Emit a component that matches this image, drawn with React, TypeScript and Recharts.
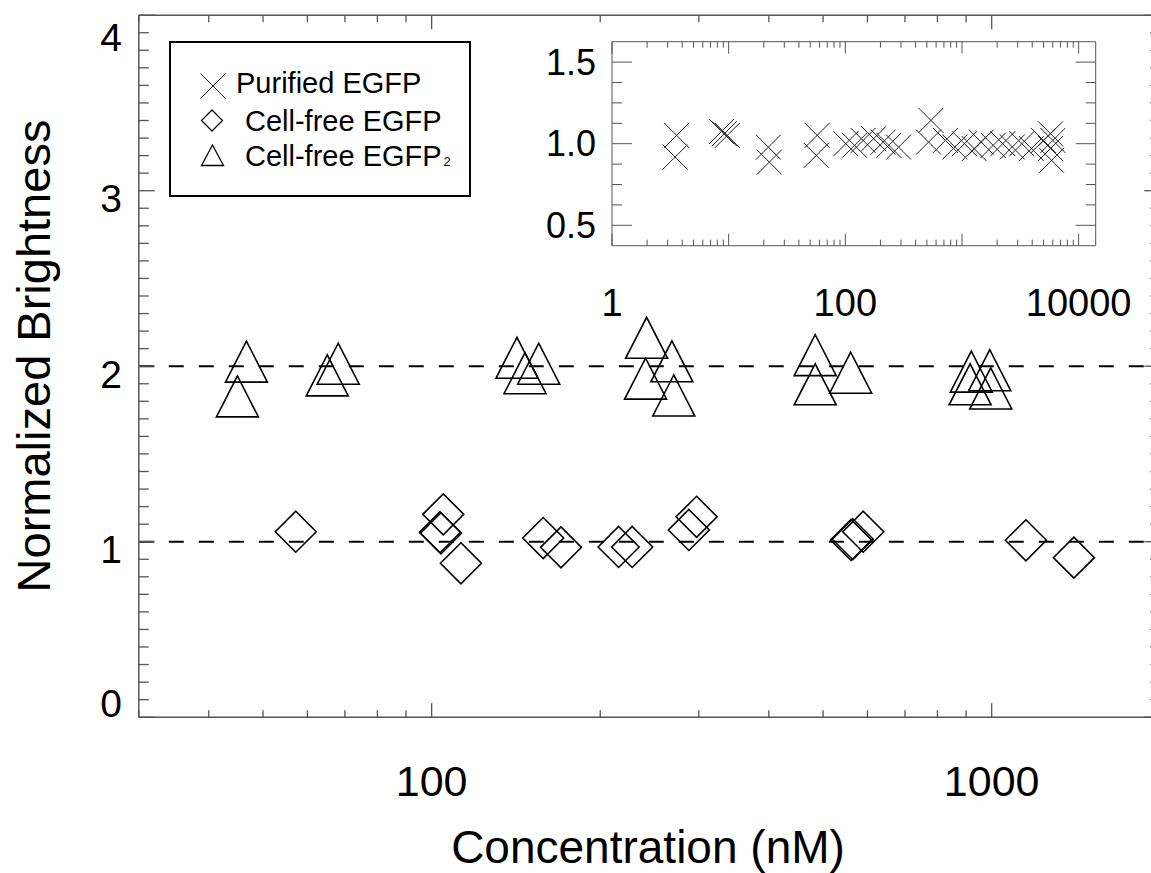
import { ScatterChart, Scatter, XAxis, YAxis, ReferenceLine } from 'recharts';

// main panel: Normalized Brightness vs concentration (nM)
const tri2X = [46.7, 45.0, 68.1, 65.1, 142.0, 155.3, 146.8, 242, 268.5, 241, 270.6, 484, 484, 560, 919.6, 992, 915, 996];
const tri2Y = [2.026, 1.828, 2.014, 1.948, 2.048, 2.014, 1.96, 2.162, 2.028, 1.929, 1.833, 2.063, 1.897, 1.963, 1.969, 1.977, 1.897, 1.873];

const diaX = [57.2, 104.9, 103.5, 103.9, 112.8, 158.2, 170.2, 215.7, 228.1, 297.2, 287.9, 564.9, 560.8, 589.7, 1151, 1402];
const diaY = [1.057, 1.156, 1.054, 1.048, 0.877, 1.021, 0.968, 0.97, 0.97, 1.142, 1.067, 1.014, 1.01, 1.057, 1.008, 0.909];

// inset: purified EGFP
const crossX = [3.58, 3.47, 8.68, 9.19, 9.73, 21.9, 22.3, 57.3, 56.3, 101, 120, 142, 175, 211, 236, 286, 542, 517, 721, 869, 1050, 1270, 1462, 1850, 2237, 2700, 3260, 3941, 4985, 5740, 6010, 5860, 5740];
const crossY = [1.051, 0.918, 1.075, 1.061, 1.051, 0.979, 0.887, 1.051, 0.928, 1.0, 0.99, 1.02, 1.031, 1.01, 0.99, 0.979, 1.143, 1.01, 1.02, 0.98, 1.0, 0.97, 1.01, 0.99, 1.0, 0.98, 1.0, 0.97, 1.02, 1.061, 1.02, 0.898, 0.971];

const mainXTicks = [30, 40, 50, 60, 70, 80, 90, 100, 200, 300, 400, 500, 600, 700, 800, 900, 1000, 2000];
const mainXLabels = [100, 1000];
const mainYTicks = Array.from({ length: 41 }, (_, i) => i / 10);

const insetXTicks = [1, 2, 3, 4, 5, 6, 7, 8, 9, 10, 20, 30, 40, 50, 60, 70, 80, 90, 100, 200, 300, 400, 500, 600, 700, 800, 900, 1000, 2000, 3000, 4000, 5000, 6000, 7000, 8000, 9000, 10000];
const insetXLabels = [1, 100, 10000];
const insetYTicks = [0.5, 0.625, 0.75, 0.875, 1.0, 1.125, 1.25, 1.375, 1.5];

const legendLabels = ['Purified EGFP', 'Cell-free EGFP', 'Cell-free EGFP'];

const FONT = '"Liberation Sans", Arial, Helvetica, sans-serif';
const AXIS = '#555';

const toPts = (xs: number[], ys: number[]) => xs.map((x, i) => ({ x, y: ys[i] }));

// layout
const PL = 138.8, PR = 1160.3, PT = 15.2, PB = 717.2;
const IL = 612, IR = 1095.7, IT = 41.7, IB = 245.7;

const Triangle = (p: any) => {
  const { cx, cy } = p;
  return <polygon points={`${cx},${cy - 20.5} ${cx - 21},${cy + 20.5} ${cx + 21},${cy + 20.5}`} fill="none" stroke="#000" strokeWidth={1.6} />;
};
const Diamond = (p: any) => {
  const { cx, cy } = p;
  return <polygon points={`${cx},${cy - 20.5} ${cx + 20.5},${cy} ${cx},${cy + 20.5} ${cx - 20.5},${cy}`} fill="none" stroke="#000" strokeWidth={1.6} />;
};
const Cross = (p: any) => {
  const { cx, cy } = p;
  const h = 12.5;
  return (
    <g stroke="#222" strokeWidth={1}>
      <line x1={cx - h} y1={cy - h} x2={cx + h} y2={cy + h} />
      <line x1={cx - h} y1={cy + h} x2={cx + h} y2={cy - h} />
    </g>
  );
};

const MainYTick = (props: any) => {
  const { y, payload } = props;
  const v = payload.value;
  const major = Math.abs(v - Math.round(v)) < 1e-6;
  const len = major ? 16 : 10;
  let dy = 8;
  if (v === 0) dy = -14;
  if (v === 4) dy = 22;
  return (
    <g>
      <line x1={PL} x2={PL + len} y1={y} y2={y} stroke={AXIS} strokeWidth={1.3} />
      <line x1={PR} x2={PR - len} y1={y} y2={y} stroke={AXIS} strokeWidth={1.3} />
      {major && (
        <text x={122} y={y + dy} textAnchor="end" dominantBaseline="central" fontSize={39} fontFamily={FONT} fill="#000">
          {Math.round(v)}
        </text>
      )}
    </g>
  );
};

const MainXTick = (props: any) => {
  const { x, payload } = props;
  const v = payload.value;
  const major = mainXLabels.includes(v);
  const len = major ? 14 : 7;
  return (
    <g>
      <line x1={x} x2={x} y1={PB} y2={PB - len} stroke={AXIS} strokeWidth={1.3} />
      <line x1={x} x2={x} y1={PT} y2={PT + len} stroke={AXIS} strokeWidth={1.3} />
      {major && (
        <text x={x} y={781} textAnchor="middle" dominantBaseline="central" fontSize={43} fontFamily={FONT} fill="#000">
          {v}
        </text>
      )}
    </g>
  );
};

const InsetYTick = (props: any) => {
  const { y, payload } = props;
  const v = payload.value;
  const major = Math.abs(v * 2 - Math.round(v * 2)) < 1e-6;
  const len = major ? 20 : 10;
  return (
    <g>
      <line x1={IL} x2={IL + len} y1={y} y2={y} stroke={AXIS} strokeWidth={1} />
      <line x1={IR} x2={IR - len} y1={y} y2={y} stroke={AXIS} strokeWidth={1} />
      {major && (
        <text x={596} y={y} textAnchor="end" dominantBaseline="central" fontSize={36} fontFamily={FONT} fill="#000">
          {v.toFixed(1)}
        </text>
      )}
    </g>
  );
};

const InsetXTick = (props: any) => {
  const { x, payload } = props;
  const v = payload.value;
  const decade = Math.abs(Math.log10(v) - Math.round(Math.log10(v))) < 1e-6;
  const len = decade ? 12 : 6;
  return (
    <g>
      <line x1={x} x2={x} y1={IB} y2={IB - len} stroke={AXIS} strokeWidth={1} />
      <line x1={x} x2={x} y1={IT} y2={IT + len} stroke={AXIS} strokeWidth={1} />
      {insetXLabels.includes(v) && (
        <text x={x} y={303} textAnchor="middle" dominantBaseline="central" fontSize={38} fontFamily={FONT} fill="#000">
          {v}
        </text>
      )}
    </g>
  );
};

const LegendBox = () => (
  <svg width={302} height={156} style={{ display: 'block' }}>
    <rect x={1} y={1} width={300} height={154} fill="#fff" stroke="#000" strokeWidth={2} />
    <Cross cx={44} cy={45} />
    <polygon points="43,69 53.5,79.5 43,90 32.5,79.5" fill="none" stroke="#000" strokeWidth={1.3} />
    <polygon points="43.5,104 54.5,124.5 32.5,124.5" fill="none" stroke="#000" strokeWidth={1.3} />
    <text x={67} y={52} fontSize={29} fontFamily={FONT} fill="#000">{legendLabels[0]}</text>
    <text x={76} y={90} fontSize={29} fontFamily={FONT} fill="#000">{legendLabels[1]}</text>
    <text x={76} y={125} fontSize={29} fontFamily={FONT} fill="#000">
      {legendLabels[2]}
      <tspan fontSize={13} dx={2}>2</tspan>
    </text>
  </svg>
);

export default function App() {
  return (
    <div style={{ position: 'absolute', left: 0, top: 0, width: 1151, height: 873, overflow: 'hidden', background: '#fff' }}>
      <div style={{ position: 'absolute', left: 0, top: 0 }}>
        <ScatterChart width={1175} height={873} margin={{ top: PT, right: 1175 - PR, bottom: 873 - PB - 100, left: PL - 100 }}>
          <XAxis
            type="number"
            dataKey="x"
            scale="log"
            domain={[30, 2000]}
            allowDataOverflow
            ticks={mainXTicks}
            interval={0}
            height={100}
            tick={<MainXTick />}
            tickLine={false}
            axisLine={{ stroke: AXIS, strokeWidth: 1.5 }}
          />
          <YAxis
            type="number"
            dataKey="y"
            domain={[0, 4]}
            ticks={mainYTicks}
            interval={0}
            width={100}
            tick={<MainYTick />}
            tickLine={false}
            axisLine={{ stroke: AXIS, strokeWidth: 1.5 }}
          />
          <ReferenceLine y={4} stroke={AXIS} strokeWidth={1.5} />
          <ReferenceLine x={2000} stroke={AXIS} strokeWidth={1.5} />
          <ReferenceLine y={2} stroke="#000" strokeWidth={2} strokeDasharray="15 15" />
          <ReferenceLine y={1} stroke="#000" strokeWidth={2} strokeDasharray="15 15" />
          <Scatter name="Cell-free EGFP2" data={toPts(tri2X, tri2Y)} shape={<Triangle />} isAnimationActive={false} />
          <Scatter name="Cell-free EGFP" data={toPts(diaX, diaY)} shape={<Diamond />} isAnimationActive={false} />
        </ScatterChart>
      </div>
      <div style={{ position: 'absolute', left: 0, top: 0 }}>
        <ScatterChart width={1151} height={330} margin={{ top: IT, right: 1151 - IR, bottom: 330 - IB - 80, left: IL - 100 }}>
          <XAxis
            type="number"
            dataKey="x"
            scale="log"
            domain={[1, 14000]}
            allowDataOverflow
            ticks={insetXTicks}
            interval={0}
            height={80}
            tick={<InsetXTick />}
            tickLine={false}
            axisLine={{ stroke: AXIS, strokeWidth: 1 }}
          />
          <YAxis
            type="number"
            dataKey="y"
            domain={[0.375, 1.625]}
            allowDataOverflow
            ticks={insetYTicks}
            interval={0}
            width={100}
            tick={<InsetYTick />}
            tickLine={false}
            axisLine={{ stroke: AXIS, strokeWidth: 1 }}
          />
          <ReferenceLine y={1.625} stroke={AXIS} strokeWidth={1} />
          <ReferenceLine x={14000} stroke={AXIS} strokeWidth={1} />
          <Scatter name="Purified EGFP" data={toPts(crossX, crossY)} shape={<Cross />} isAnimationActive={false} />
        </ScatterChart>
      </div>
      <div style={{ position: 'absolute', left: 169, top: 41 }}>
        <LegendBox />
      </div>
      <div
        style={{
          position: 'absolute',
          left: 33,
          top: 356,
          transform: 'translate(-50%, -50%) rotate(-90deg)',
          transformOrigin: 'center',
          whiteSpace: 'nowrap',
          fontSize: 47,
          fontFamily: FONT,
          color: '#000',
          lineHeight: 1,
        }}
      >
        Normalized Brightness
      </div>
      <div
        style={{
          position: 'absolute',
          left: 648,
          top: 847,
          transform: 'translate(-50%, -50%)',
          whiteSpace: 'nowrap',
          fontSize: 46,
          fontFamily: FONT,
          color: '#000',
          lineHeight: 1,
        }}
      >
        Concentration (nM)
      </div>
    </div>
  );
}
